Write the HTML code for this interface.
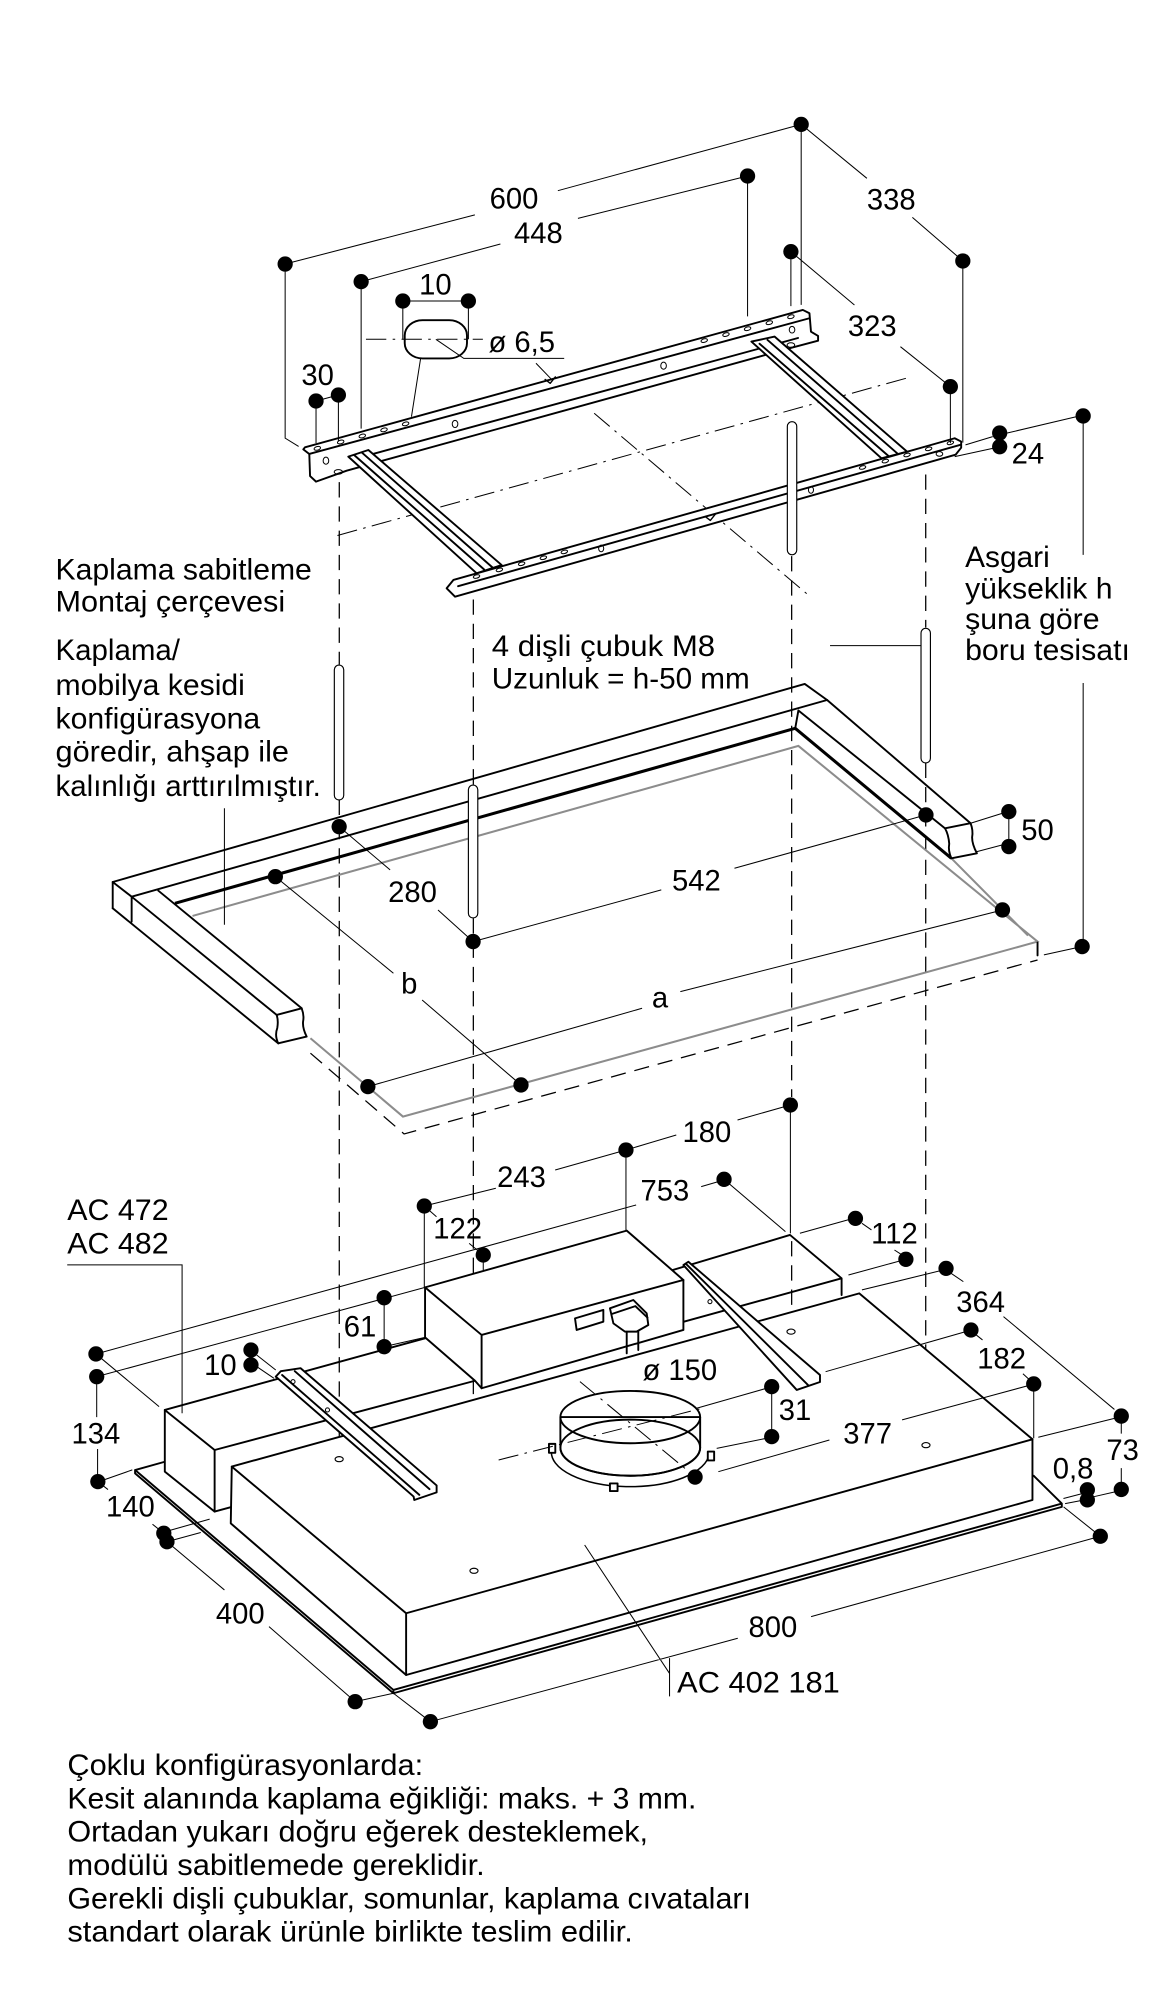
<!DOCTYPE html>
<html><head><meta charset="utf-8"><style>
html,body{margin:0;padding:0;background:#fff;overflow:hidden}
svg{display:block}
.o{fill:none;stroke:#000;stroke-width:1.5;stroke-linejoin:round;stroke-linecap:round}
.w{fill:#fff;stroke:#000;stroke-width:1.5;stroke-linejoin:round}
.t{fill:none;stroke:#000;stroke-width:0.8}
.k{fill:none;stroke:#000;stroke-width:2.4;stroke-linejoin:round}
.d{fill:none;stroke:#000;stroke-width:1;stroke-dasharray:12 7}
.dd{fill:none;stroke:#000;stroke-width:0.8;stroke-dasharray:16 5 2 5}
.g{fill:none;stroke:#8c8c8c;stroke-width:1.6}
.h{fill:#fff;stroke:#000;stroke-width:0.9}
.hl{fill:none;stroke:#000;stroke-width:0.8}
text{font-family:"Liberation Sans",Arial,sans-serif;font-size:23px;fill:#000}
.m{text-anchor:middle}
</style></head><body>
<svg xmlns="http://www.w3.org/2000/svg" width="1150" height="2000" viewBox="0 0 905 1568" preserveAspectRatio="none">
<rect width="905" height="1568" fill="#fff"/>

<!-- dashed verticals -->
<path class="d" d="M267 378V521 M267 627V1141 M372.5 470V615 M372.5 720V1229 M623 436V860 M623 973V1041 M728.5 372V492 M728.5 598V1131"/>
<!-- dash-dot center lines -->
<path class="dd" d="M712.9 296.6L262.3 420.7 M467.6 324L637.5 467.7 M288 266H380 M392.4 1144.6L553 1104 M456.4 1083.2L546.9 1157.7"/>

<!-- ===== TOP MOUNTING FRAME ===== -->
<path class="w" d="M240,350.7 L631.8,243 L637,245.6 L638.2,260 L643.8,263.4 L643.8,267.1 L621.2,273.1 L272.8,369 L248.7,377.6 L244,373.2 L243.4,355.9 L238.7,352.3 Z"/>
<path class="o" d="M243.4,355.9 L637,249.5 M290.6,356.7 L628,265"/>
<g class="hl">
<ellipse cx="249.7" cy="351.5" rx="2.6" ry="1.4" transform="rotate(-15 249.7 351.5)"/>
<ellipse cx="268.1" cy="346.5" rx="2.6" ry="1.4" transform="rotate(-15 268.1 346.5)"/>
<ellipse cx="285.1" cy="341.8" rx="2.6" ry="1.4" transform="rotate(-15 285.1 341.8)"/>
<ellipse cx="302.2" cy="337" rx="2.6" ry="1.4" transform="rotate(-15 302.2 337)"/>
<ellipse cx="319.2" cy="332.3" rx="2.6" ry="1.4" transform="rotate(-15 319.2 332.3)"/>
<ellipse cx="554.2" cy="267" rx="2.6" ry="1.4" transform="rotate(-15 554.2 267)"/>
<ellipse cx="571.3" cy="262.3" rx="2.6" ry="1.4" transform="rotate(-15 571.3 262.3)"/>
<ellipse cx="588.3" cy="257.7" rx="2.6" ry="1.4" transform="rotate(-15 588.3 257.7)"/>
<ellipse cx="605.4" cy="253" rx="2.6" ry="1.4" transform="rotate(-15 605.4 253)"/>
<ellipse cx="622.4" cy="248.3" rx="2.6" ry="1.4" transform="rotate(-15 622.4 248.3)"/>
<ellipse cx="256.5" cy="361.2" rx="2.2" ry="2.8"/>
<ellipse cx="266.3" cy="370" rx="3.3" ry="1.8"/>
<ellipse cx="358.1" cy="332.4" rx="2.2" ry="2.8"/>
<ellipse cx="522.2" cy="286.7" rx="2.2" ry="2.8"/>
<ellipse cx="623.3" cy="258.5" rx="2.2" ry="2.6"/>
<ellipse cx="622.4" cy="270.5" rx="3" ry="1.8"/>
</g>
<path class="o" style="stroke-width:1.1" d="M429,297.5 L433,300.5 L437,295.5"/>

<!-- crossbars -->
<path class="w" d="M274.1,358 L289.9,352.8 L394.8,443 L375.1,449.5 Z"/>
<path class="o" d="M279,357 L381,446.5 M285,355 L387.5,444.8"/>
<path class="w" d="M591.3,267.8 L609.6,263.9 L713.8,354.1 L693.7,359.3 Z"/>
<path class="o" d="M597.7,269.5 L699.2,357.5 M604,266.5 L706.5,355.8"/>

<!-- front rail -->
<path class="w" d="M351.5,461.2 L356.8,454.7 L751.3,343.6 L756.4,346.2 L756.4,351 L752,356.5 L358.1,467.8 Z"/>
<path class="o" d="M360.5,459.6 L755.5,348.8"/>
<g class="hl">
<ellipse cx="375" cy="452" rx="2.6" ry="1.3" transform="rotate(-15 375 452)"/>
<ellipse cx="393" cy="446.8" rx="2.6" ry="1.3" transform="rotate(-15 393 446.8)"/>
<ellipse cx="410.5" cy="442" rx="2.6" ry="1.3" transform="rotate(-15 410.5 442)"/>
<ellipse cx="427.6" cy="437.3" rx="2.6" ry="1.3" transform="rotate(-15 427.6 437.3)"/>
<ellipse cx="444.1" cy="432.7" rx="2.6" ry="1.3" transform="rotate(-15 444.1 432.7)"/>
<ellipse cx="678.8" cy="366.5" rx="2.6" ry="1.3" transform="rotate(-15 678.8 366.5)"/>
<ellipse cx="696.7" cy="361.5" rx="2.6" ry="1.3" transform="rotate(-15 696.7 361.5)"/>
<ellipse cx="713.8" cy="356.7" rx="2.6" ry="1.3" transform="rotate(-15 713.8 356.7)"/>
<ellipse cx="730.8" cy="351.9" rx="2.6" ry="1.3" transform="rotate(-15 730.8 351.9)"/>
<ellipse cx="747.9" cy="347.2" rx="2.6" ry="1.3" transform="rotate(-15 747.9 347.2)"/>
<ellipse cx="473.1" cy="430" rx="2" ry="2.6"/>
<ellipse cx="638.2" cy="384.1" rx="2" ry="2.6"/>
<ellipse cx="739.3" cy="355.9" rx="2.6" ry="1.8"/>
</g>
<path class="o" style="stroke-width:1.1" d="M555,405 L559,408 L563,403"/>

<!-- rod 3 -->
<rect class="h" x="619.6" y="330.6" width="7.4" height="104.4" rx="3.7"/>

<!-- slot -->
<rect class="o" x="318.5" y="251" width="49" height="30" rx="14" ry="12"/>

<!-- top dimension lines -->
<path class="t" d="M224.4,207 L373.7,168.5 M439,149.5 L630.5,97.5 M284.2,220.8 L393.8,191.3 M454.8,171.2 L588.3,138 M630.5,97.5 L682.2,139.8 M718,170.4 L757.7,204.6 M622.4,197.3 L672.4,239.1 M708.6,271.8 L747.9,303.1 M630.5,97.5 V239 M622.4,197.3 V240 M757.7,204.6 V347 M747.9,303.1 V347.5 M588.3,138 V248 M284.2,220.8 V336 M224.4,207 V343.5 L235,350 M317,236 H368.6 M317,236 V266 M368.6,236 V266 M343,266 L365,281 H444 M421.8,284.8 L433.6,297 M331,281 L323.8,326.7 M248.7,314.4 V347.4 M266.3,309.7 V346 M248.7,314.4 L266.3,309.7 M759.8,348.8 L781.2,342.3 M751.3,358 L781.2,351.5 M791.8,339.7 L847.3,326.6 M852.4,326.1 V435 M852.4,535.5 V742 M653.2,506.2 H724.8"/>
<g fill="#000">
<circle cx="630.5" cy="97.5" r="6"/><circle cx="224.4" cy="207" r="6"/><circle cx="588.3" cy="138" r="6"/><circle cx="284.2" cy="220.8" r="6"/>
<circle cx="317" cy="236" r="6"/><circle cx="368.6" cy="236" r="6"/><circle cx="248.7" cy="314.4" r="6"/><circle cx="266.3" cy="309.7" r="6"/>
<circle cx="622.4" cy="197.3" r="6"/><circle cx="757.7" cy="204.6" r="6"/><circle cx="747.9" cy="303.1" r="6"/>
<circle cx="786.7" cy="339.5" r="6"/><circle cx="786.7" cy="350.2" r="6"/><circle cx="852.4" cy="326.1" r="6"/>
</g>

<!-- ===== WOODEN FRAME ===== -->
<path class="g" d="M151.5,718.1 L628.3,584.8 L816.5,738.2 L317.1,875.4 L244.3,814 M748.7,672.9 L809,733.5"/>
<path class="d" d="M244.3,825.7 L318,889 L816.5,752.6"/>
<path class="o" d="M816.5,739 V749"/>
<path class="o" d="M88.7,712.1 V691.5 L633.3,536.2 L650.9,548.8 L763.8,645.4"/>
<path class="o" d="M88.7,691.5 L103.6,703 L217.7,795.7 M88.7,712.1 L219,818 M103.6,703 L650.9,548.8 M103.6,703 V722.6 M124.6,698.3 L237.4,790.5 M628.3,557 L743.7,649.4 M628.3,557 L625.8,571"/>
<path class="k" d="M137.7,708.2 L625.8,571 L748.7,672.9"/>
<path class="w" d="M217.7,795.7 L237.4,790.5 Q239.5,796 238.5,801 Q238,806 241.3,812.7 L219,818 Q216,812 218.2,806 Q219.2,800 217.7,795.7 Z"/>
<path class="w" d="M743.7,649.4 L763.8,645.4 Q766,651 765,656.5 Q765,662 768.8,669 L748.7,672.9 Q746,667 747,661.5 Q746.5,654.5 743.7,649.4 Z"/>

<!-- rods 1,2,4 -->
<rect class="h" x="263.1" y="521.4" width="7.4" height="105.8" rx="3.7"/>
<rect class="h" x="368.6" y="615.5" width="7.4" height="104.2" rx="3.7"/>
<rect class="h" x="724.8" y="492.6" width="7.4" height="105.6" rx="3.7"/>

<!-- wood dims -->
<path class="t" d="M266.9,648.1 L307,682 M344.7,713.4 L372.3,738.2 M372.3,738.2 L520.4,697.7 M578,680.7 L728.7,638.9 M763.8,645.4 L788.9,637.6 M768.8,667.7 L788.9,662.4 M793.9,636.3 V663.7 M216.7,687.3 L309.6,763 M332.2,784 L410,850.6 M289.5,851.9 L505.3,790.5 M535.4,777.4 L788.9,713.4 M821.5,748.6 L851.6,742.1 M176.6,633.7 V725"/>
<g fill="#000">
<circle cx="266.9" cy="648.1" r="6"/><circle cx="372.3" cy="738.2" r="6"/><circle cx="728.7" cy="638.9" r="6"/>
<circle cx="793.9" cy="636.3" r="6"/><circle cx="793.9" cy="663.7" r="6"/><circle cx="216.7" cy="687.3" r="6"/>
<circle cx="410" cy="850.6" r="6"/><circle cx="289.5" cy="851.9" r="6"/><circle cx="788.9" cy="713.4" r="6"/><circle cx="851.6" cy="742.1" r="6"/>
</g>

<!-- ===== HOOD ===== -->
<path class="o" d="M129.7,1146 L106.3,1152.5 L309.6,1324.9 L835.6,1178.8 L813.5,1157 M106.3,1152.5 V1155.1 L309.6,1327.5 L835.6,1181.4 V1178.8 M309.6,1324.9 V1327.5"/>
<path class="w" d="M129.7,1105.4 L168.9,1136.8 V1185.1 L129.7,1153.8 Z"/>
<path class="o" d="M168.9,1185.1 L181.6,1181.6"/>
<path class="o" d="M129.7,1105.4 L334.5,1049.2 M168.9,1136.8 L373.8,1082.5 M529,995.8 L621.7,968.2 L662.3,1002.2 V1015.3 M537.8,1036.3 L662.3,1002.2"/>
<path class="w" d="M182.4,1149.8 L676.2,1014 L812.5,1128.4 V1176 L319.6,1313.2 L181.6,1194.3 Z"/>
<path class="o" d="M182.4,1149.8 L319.6,1264.8 L812.5,1128.4 M319.6,1264.8 V1313.2"/>
<path class="w" d="M334.5,1009.3 L493.2,964.8 L537.8,1003.5 V1042.7 L379,1088.4 L373.8,1082.5 L334.5,1048.5 Z"/>
<path class="o" d="M334.5,1009.3 L379,1046.6 L537.8,1003.5 M379,1046.6 V1088.4"/>
<path class="o" d="M452.5,1033.6 L474.8,1027 V1036.2 L453.8,1042.7 Z"/>
<path class="o" d="M493.2,1044 V1061 M502.3,1043 V1058.4"/>
<path class="w" d="M480,1025.7 L498.4,1019.2 L508.9,1029.6 L510.2,1038.8 L501,1044 L491.8,1044 L482.7,1037.5 Z"/>
<path class="o" d="M482,1030 L500,1024 L509.5,1033"/>
<path class="w" d="M217,1079.3 L221,1075 L236.6,1072.7 L343.6,1164.6 L343.6,1170 L326,1176 L325.5,1173.3 Z"/>
<path class="o" d="M222,1078 L330,1172 M232,1075 L338,1167.5"/>
<circle class="hl" cx="230.6" cy="1083.2" r="1.6"/><circle class="hl" cx="257.7" cy="1105.4" r="1.6"/>
<path class="w" d="M537.8,991.8 L541.7,989.2 L645.3,1078 L645.3,1083.5 L627,1089.7 Z"/>
<path class="o" d="M540,991 L636,1086"/>
<circle class="hl" cx="558.7" cy="1020.5" r="1.6"/>
<path class="o" style="stroke-width:1.2" d="M434,1137 A62,27 0 0 0 558,1140"/>
<path class="w" d="M432,1132 h5 v7 h-5 Z M557,1138 h5 v7 h-5 Z M480,1163 h6 v6 h-6 Z"/>
<path class="w" d="M441,1111 V1135 A55,22 0 0 0 551,1135 V1111 Z"/>
<ellipse class="o" cx="496" cy="1135" rx="55" ry="22"/>
<ellipse class="o" cx="496" cy="1111" rx="55" ry="20.5"/>
<g class="h"><ellipse cx="266.9" cy="1144" rx="3.2" ry="2"/><ellipse cx="373" cy="1231.5" rx="3.2" ry="2"/><ellipse cx="622.5" cy="1044" rx="3.2" ry="2"/><ellipse cx="728.7" cy="1133" rx="3.2" ry="2"/></g>
<path class="dd" d="M392.4 1144.6L553 1104 M456.4 1083.2L546.9 1157.7"/>

<path class="t" d="M75.5,1061.5 L500.6,944.7 M551.8,930.3 L565.3,926.4 M569.8,924.6 L618.1,965.6 M75.5,1061.5 L125.2,1102.8
M76.1,1079.3 L334.5,1009.3 M76.1,1079.3 V1111 M76.8,1136 V1161.6 M81.5,1160.3 L104.1,1152.4
M77,1161.6 L85,1167.8 M120,1195 L128.9,1202.1 M133,1200 L165,1191 M136,1207.5 L158,1201.5
M131.4,1208.7 L176.6,1246.5 M211.7,1275.3 L279.5,1334.1 M279.5,1334.1 L309.6,1327.5
M338.7,1349.8 L580.6,1284.4 M638.3,1267.4 L865.9,1204.4 M309.6,1327.5 L338.7,1349.8 M837,1181.4 L865.9,1204.4
M302.3,1017.4 V1055.8 M302.3,1055.8 L334.5,1048.5 M202,1062.3 L217,1074.1 M202,1071.4 L215.6,1080.6
M333.9,945.5 V1009.3 M333.9,945.5 L390.2,931.6 M436.9,917.3 L492.6,901.6 M492.6,901.6 V964.8 M333.9,945.5 L343.5,953.9 M369.2,974.8 L380.3,983.9 M380.3,983.9 V995.7
M492.6,901.6 L532.2,889.8 M580.4,878.1 L622,866.3 M622,866.3 V967
M629.5,966.9 L671.5,955.2 M667.7,999.6 L712.9,987.3 M678.3,959.1 L685.8,964.3 M703.9,980 L709.9,983.9
M678.3,1011.3 L741,996 M748,998 L758.1,1004.8 M789.7,1032.2 L877,1105 M817.1,1126.8 L877.4,1111.9
M649.7,1075.4 L760,1044 M767.5,1046 L773.2,1050.5 M805,1077 L811,1082.5
M565.3,1153.8 L652.7,1129 M709.9,1113.2 L808.5,1086.5 M813.5,1085 V1127.6
M548.2,1104.1 L603.3,1088.4 M564,1135.5 L603.3,1127.6 M607.3,1087.1 V1126.3
M882.4,1110.2 V1124 M882.4,1151 V1167.7 M860.4,1173.5 L877.4,1169.6
M836.9,1174.8 L852,1170.9 M838.2,1178.8 L852,1176.2
M52.9,991.7 H143.3 V1108 M460.1,1211.3 L526.9,1312 M526.9,1300 V1330"/>
<g fill="#000">
<circle cx="75.5" cy="1061.5" r="6"/><circle cx="76.1" cy="1079.3" r="6"/><circle cx="77" cy="1161.6" r="6"/>
<circle cx="128.9" cy="1202.1" r="6"/><circle cx="131.4" cy="1208.7" r="6"/><circle cx="279.5" cy="1334.1" r="6"/>
<circle cx="338.7" cy="1349.8" r="6"/><circle cx="865.9" cy="1204.4" r="6"/>
<circle cx="302.3" cy="1017.4" r="6"/><circle cx="302.3" cy="1055.8" r="6"/>
<circle cx="197.5" cy="1058.4" r="6"/><circle cx="197.5" cy="1070.1" r="6"/>
<circle cx="333.9" cy="945.5" r="6"/><circle cx="380.3" cy="983.9" r="6"/><circle cx="492.6" cy="901.6" r="6"/>
<circle cx="622" cy="866.3" r="6"/><circle cx="569.8" cy="924.6" r="6"/>
<circle cx="673.2" cy="955.2" r="6"/><circle cx="712.9" cy="987.3" r="6"/><circle cx="744.5" cy="994.4" r="6"/>
<circle cx="764.1" cy="1042.7" r="6"/><circle cx="813.5" cy="1085" r="6"/>
<circle cx="882.4" cy="1110.2" r="6"/><circle cx="882.4" cy="1167.7" r="6"/>
<circle cx="855.7" cy="1168" r="6"/><circle cx="855.7" cy="1175.9" r="6"/>
<circle cx="607.3" cy="1087.1" r="6"/><circle cx="607.3" cy="1126.3" r="6"/><circle cx="547" cy="1158" r="6"/>
</g>

<g>
<text class="m" x="404.5" y="163.5">600</text>
<text class="m" x="423.7" y="190.5">448</text>
<text class="m" x="701.4" y="164.3">338</text>
<text class="m" x="342.6" y="231">10</text>
<text x="384.4" y="276">ø 6,5</text>
<text class="m" x="250" y="302">30</text>
<text class="m" x="686.4" y="263.6">323</text>
<text class="m" x="808.9" y="363.4">24</text>

<text x="43.7" y="454.2" textLength="201.7" lengthAdjust="spacingAndGlyphs">Kaplama sabitleme</text>
<text x="43.7" y="479.5" textLength="180.7" lengthAdjust="spacingAndGlyphs">Montaj çerçevesi</text>
<text x="43.7" y="517.4" textLength="97.9" lengthAdjust="spacingAndGlyphs">Kaplama/</text>
<text x="43.7" y="544.9" textLength="149" lengthAdjust="spacingAndGlyphs">mobilya kesidi</text>
<text x="43.7" y="571" textLength="161.1" lengthAdjust="spacingAndGlyphs">konfigürasyona</text>
<text x="43.7" y="597.2" textLength="183.7" lengthAdjust="spacingAndGlyphs">göredir, ahşap ile</text>
<text x="43.7" y="624.1" textLength="208.8" lengthAdjust="spacingAndGlyphs">kalınlığı arttırılmıştır.</text>

<text x="759.5" y="444.5" textLength="66.6" lengthAdjust="spacingAndGlyphs">Asgari</text>
<text x="759.5" y="469.2" textLength="116" lengthAdjust="spacingAndGlyphs">yükseklik h</text>
<text x="759.5" y="493" textLength="105.8" lengthAdjust="spacingAndGlyphs">şuna göre</text>
<text x="759.5" y="517.6" textLength="129.7" lengthAdjust="spacingAndGlyphs">boru tesisatı</text>

<text x="387" y="514.3" textLength="175.8" lengthAdjust="spacingAndGlyphs">4 dişli çubuk M8</text>
<text x="387" y="539.6" textLength="203" lengthAdjust="spacingAndGlyphs">Uzunluk = h-50 mm</text>

<text class="m" x="816.5" y="658.7">50</text>
<text class="m" x="324.6" y="707">280</text>
<text class="m" x="548" y="698">542</text>
<text class="m" x="322.1" y="779">b</text>
<text class="m" x="519.4" y="790">a</text>

<text class="m" x="556.3" y="895.2">180</text>
<text class="m" x="410.4" y="930.5">243</text>
<text class="m" x="523.2" y="941">753</text>
<text x="52.9" y="956.5" textLength="79.8" lengthAdjust="spacingAndGlyphs">AC 472</text>
<text x="52.9" y="982.6" textLength="79.8" lengthAdjust="spacingAndGlyphs">AC 482</text>
<text class="m" x="360.1" y="971">122</text>
<text class="m" x="703.9" y="975">112</text>
<text class="m" x="771.7" y="1028.5">364</text>
<text class="m" x="283.3" y="1048">61</text>
<text class="m" x="788.2" y="1073">182</text>
<text class="m" x="173.4" y="1078">10</text>
<text class="m" x="535" y="1082">ø 150</text>
<text class="m" x="75.5" y="1131.7">134</text>
<text class="m" x="625.6" y="1113.4">31</text>
<text class="m" x="682.8" y="1131.7">377</text>
<text class="m" x="883.5" y="1144.8">73</text>
<text class="m" x="844.5" y="1159">0,8</text>
<text class="m" x="102.6" y="1189">140</text>
<text class="m" x="189.1" y="1272.8">400</text>
<text class="m" x="608.2" y="1283.3">800</text>
<text x="532.9" y="1327" textLength="128" lengthAdjust="spacingAndGlyphs">AC 402 181</text>

<text x="53" y="1391.6" textLength="280" lengthAdjust="spacingAndGlyphs">Çoklu konfigürasyonlarda:</text>
<text x="53" y="1417.8" textLength="495" lengthAdjust="spacingAndGlyphs">Kesit alanında kaplama eğikliği: maks. + 3 mm.</text>
<text x="53" y="1443.9" textLength="457" lengthAdjust="spacingAndGlyphs">Ortadan yukarı doğru eğerek desteklemek,</text>
<text x="53" y="1470" textLength="328.5" lengthAdjust="spacingAndGlyphs">modülü sabitlemede gereklidir.</text>
<text x="53" y="1496.1" textLength="538" lengthAdjust="spacingAndGlyphs">Gerekli dişli çubuklar, somunlar, kaplama cıvataları</text>
<text x="53" y="1522.3" textLength="445" lengthAdjust="spacingAndGlyphs">standart olarak ürünle birlikte teslim edilir.</text>
</g>
</svg>
</body></html>
